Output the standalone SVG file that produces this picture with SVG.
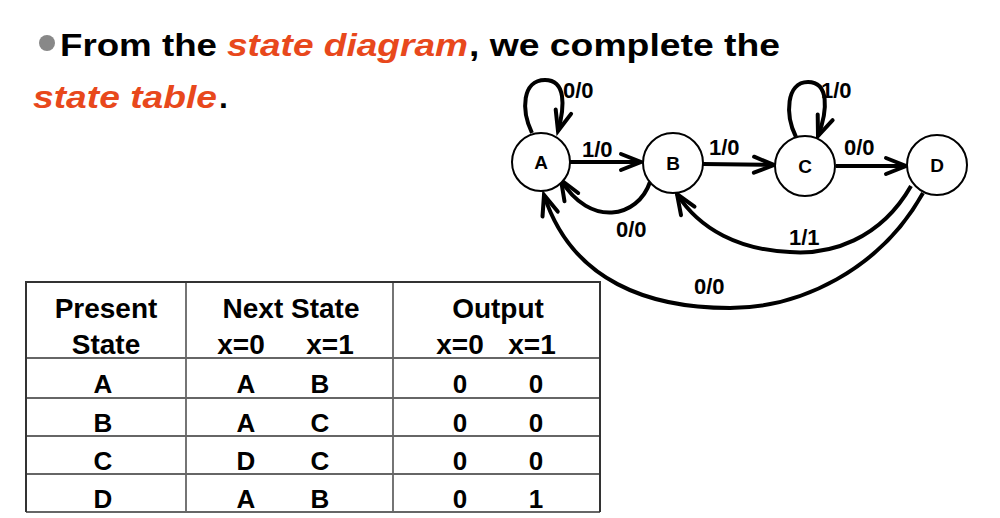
<svg xmlns="http://www.w3.org/2000/svg" width="1000" height="518" viewBox="0 0 1000 518">
<style>
  .t{font-family:"Liberation Sans",Arial,sans-serif;font-weight:bold;}
  .title{font-size:32px;fill:#000;}
  .red{fill:#E8481C;font-style:italic;}
  .node{fill:#fff;stroke:#000;stroke-width:2;}
  .nl{font-size:19px;text-anchor:middle;}
  .edge{fill:none;stroke:#000;stroke-width:4;marker-end:url(#ah);}
  .el{font-size:22px;}
  .th{font-size:28px;text-anchor:middle;}
  .td{font-size:26px;text-anchor:middle;}
  .grid{stroke:#666;stroke-width:1.8;fill:none;}
</style>
<defs>
  <marker id="ah" viewBox="-24 -12 28 24" refX="0" refY="0" markerWidth="28" markerHeight="24" markerUnits="userSpaceOnUse" orient="auto" overflow="visible">
    <path d="M-20,-8 L0,0 L-20,8" fill="none" stroke="#000" stroke-width="4" stroke-linecap="round"/>
  </marker>
</defs>
<rect width="1000" height="518" fill="#fff"/>

<g id="title">
  <circle cx="47" cy="43" r="8" fill="#888"/>
  <text class="t title" y="56"><tspan x="60" textLength="157" lengthAdjust="spacingAndGlyphs">From the</tspan><tspan class="red" x="227" textLength="241" lengthAdjust="spacingAndGlyphs">state diagram</tspan><tspan x="469" textLength="311" lengthAdjust="spacingAndGlyphs">, we complete the</tspan></text>
  <text class="t title" y="108"><tspan class="red" x="33" textLength="184" lengthAdjust="spacingAndGlyphs">state table</tspan><tspan x="219">.</tspan></text>
</g>

<g id="connectors">
  <path class="edge" d="M570,162 L641,162"/>
  <path class="edge" d="M703,164 L774,165"/>
  <path class="edge" d="M836,166 L906,166"/>
  <path class="edge" d="M532,133 C521,110 522,80 545,80 C566,80 565,106 558,131"/>
  <path class="edge" d="M796,137 C785,115 786,82 808,82 C829,82 828,110 818,136"/>
  <path class="edge" d="M650,182 C638,218 590,228 561,180"/>
  <path class="edge" d="M911,186 C880,240 830,255 790,252 C740,250 700,230 677,194"/>
  <path class="edge" d="M923,193 C880,270 800,308 730,308 C650,308 572,282 544,195"/>
  <text class="t el" x="563" y="98">0/0</text>
  <text class="t el" x="821" y="98">1/0</text>
  <text class="t el" x="582" y="157">1/0</text>
  <text class="t el" x="709" y="155">1/0</text>
  <text class="t el" x="844" y="155">0/0</text>
  <text class="t el" x="616" y="237">0/0</text>
  <text class="t el" x="789" y="245">1/1</text>
  <text class="t el" x="694" y="294">0/0</text>
</g>

<g id="node-A"><circle class="node" cx="541" cy="162" r="29"/><text class="t nl" x="541" y="169">A</text></g>
<g id="node-B"><circle class="node" cx="673" cy="163" r="30"/><text class="t nl" x="673" y="170">B</text></g>
<g id="node-C"><circle class="node" cx="805" cy="166" r="30"/><text class="t nl" x="805" y="173">C</text></g>
<g id="node-D"><circle class="node" cx="937" cy="165" r="30"/><text class="t nl" x="937" y="172">D</text></g>

<g id="table">
  <path class="grid" d="M186,282 V512 M393,282 V512 M26,358 H600 M26,398 H600 M26,436 H600 M26,474 H600 M26,512 H600"/>
  <path d="M26,512 V282 H600 V512" fill="none" stroke="#333" stroke-width="2"/>
  <text class="t th" x="106" y="318">Present</text>
  <text class="t th" x="106" y="354">State</text>
  <text class="t th" x="291" y="318">Next State</text>
  <text class="t th" x="241" y="354">x=0</text>
  <text class="t th" x="330" y="354">x=1</text>
  <text class="t th" x="498" y="318">Output</text>
  <text class="t th" x="460" y="354">x=0</text>
  <text class="t th" x="532" y="354">x=1</text>
  <text class="t td" x="103" y="393">A</text><text class="t td" x="246" y="393">A</text><text class="t td" x="320" y="393">B</text><text class="t td" x="460" y="393">0</text><text class="t td" x="536" y="393">0</text>
  <text class="t td" x="103" y="432">B</text><text class="t td" x="246" y="432">A</text><text class="t td" x="320" y="432">C</text><text class="t td" x="460" y="432">0</text><text class="t td" x="536" y="432">0</text>
  <text class="t td" x="103" y="470">C</text><text class="t td" x="246" y="470">D</text><text class="t td" x="320" y="470">C</text><text class="t td" x="460" y="470">0</text><text class="t td" x="536" y="470">0</text>
  <text class="t td" x="103" y="508">D</text><text class="t td" x="246" y="508">A</text><text class="t td" x="320" y="508">B</text><text class="t td" x="460" y="508">0</text><text class="t td" x="536" y="508">1</text>
</g>
</svg>
